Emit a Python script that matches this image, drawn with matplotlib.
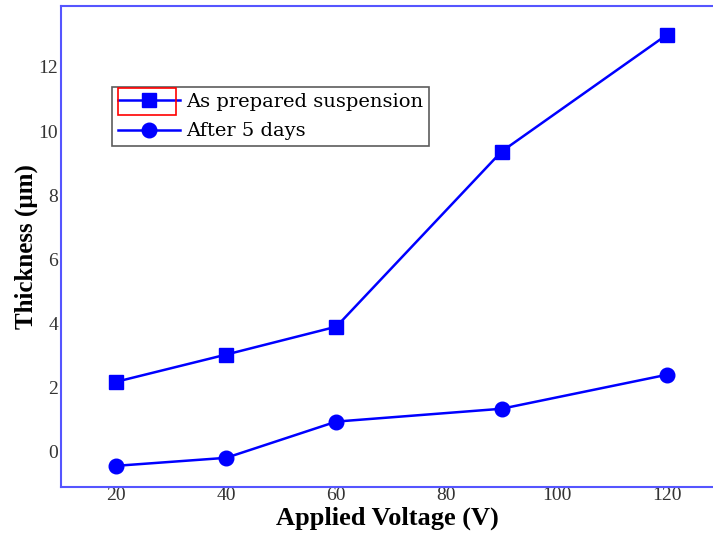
import matplotlib
matplotlib.use("Agg")
import matplotlib.pyplot as plt
from matplotlib.patches import Rectangle

voltage = [20, 40, 60, 90, 120]
as_prepared = [2.18, 3.03, 3.90, 9.36, 13.0]
after_5_days = [-0.44, -0.19, 0.94, 1.34, 2.40]
xticks = [20, 40, 60, 80, 100, 120]
yticks = [0, 2, 4, 6, 8, 10, 12]

plt.rcParams['font.family'] = ['Liberation Serif', 'DejaVu Serif']

fig = plt.figure(figsize=(7.13, 5.37), dpi=100)
ax = fig.add_axes([61/713, 1-487/537, 1-61/713, (487-6)/537])

blue = '#0000ff'
ax.plot(voltage, as_prepared, color=blue, lw=1.8, marker='s', ms=9.5,
        label='As prepared suspension')
ax.plot(voltage, after_5_days, color=blue, lw=1.8, marker='o', ms=10.5,
        label='After 5 days')

ax.set_xlim(10, 128.4)
ax.set_ylim(-1.1, 13.9)
ax.set_xticks(xticks)
ax.set_yticks(yticks)
ax.tick_params(length=0, labelsize=14, labelcolor='#333333')
ax.tick_params(axis='x', pad=0)
ax.tick_params(axis='y', pad=2)

for s in ['left', 'top', 'bottom']:
    ax.spines[s].set_color('#5555ff')
    ax.spines[s].set_linewidth(1.5)
ax.spines['right'].set_visible(False)

ax.set_xlabel('Applied Voltage (V)', fontsize=19, fontweight='bold', labelpad=2)
ax.set_ylabel('Thickness (µm)', fontsize=18, fontweight='bold', labelpad=0)

leg = ax.legend(loc='upper left', bbox_to_anchor=((112-61)/652, 1-(87-6)/481),
                prop={'family': 'DejaVu Serif', 'size': 14},
                frameon=True, fancybox=False, edgecolor='#333333',
                borderpad=0.3, handlelength=3.2, handletextpad=0.3,
                labelspacing=0.6, borderaxespad=0)
leg.get_frame().set_linewidth(1.2)

fig.patches.append(Rectangle((118/713, 1-115/537), 58/713, 27/537,
                             transform=fig.transFigure, fill=False,
                             edgecolor='red', lw=1.2))

fig.savefig('out.png', dpi=100)
